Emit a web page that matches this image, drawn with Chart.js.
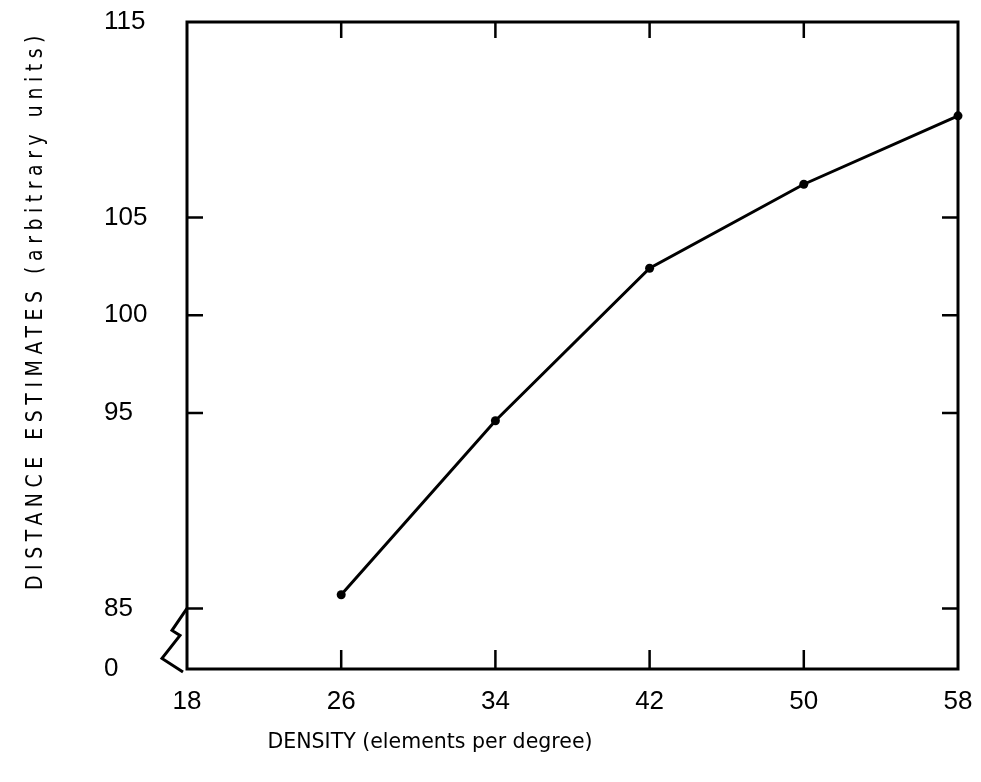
<!DOCTYPE html>
<html>
<head>
<meta charset="utf-8">
<style>
  html, body { margin: 0; padding: 0; background: #fff; }
  #wrap { width: 981px; height: 782px; }
</style>
</head>
<body>
<div id="wrap"><canvas id="chart" width="981" height="782"></canvas></div>
<script src="https://cdn.jsdelivr.net/npm/chart.js@4/dist/chart.umd.min.js"></script>
<script>
// density (elements per degree)
const densities = [26, 34, 42, 50, 58];
// distance estimates (arbitrary units)
const distances = [85.7, 94.6, 102.4, 106.7, 110.2];

const xTicks = [18, 26, 34, 42, 50, 58];
const yTicks = [85, 95, 100, 105, 115];
const yBreakValue = 81.9;   // bottom of the broken axis, labelled "0"
const yBreakLabel = '0';

const xTitle = 'DENSITY (elements per degree)';
const yTitle = 'DISTANCE ESTIMATES (arbitrary units)';

const tickFont = { family: '"Liberation Sans", Arial, sans-serif', size: 26 };
const titleFamily = '"DejaVu Sans", sans-serif';

// draws the box, the inward ticks, the axis break and the axis titles
const frame = {
    id: 'frame',
    afterDraw(chart) {
        const { ctx, chartArea: a, scales: { x, y } } = chart;
        ctx.save();
        ctx.strokeStyle = '#000';
        ctx.lineWidth = 3;
        ctx.strokeRect(a.left, a.top, a.right - a.left, a.bottom - a.top);

        const len = 16;
        ctx.lineWidth = 2.5;
        ctx.beginPath();
        xTicks.slice(1, -1).forEach(v => {
            const px = x.getPixelForValue(v);
            ctx.moveTo(px, a.bottom); ctx.lineTo(px, a.bottom - len - 3);
            ctx.moveTo(px, a.top); ctx.lineTo(px, a.top + len);
        });
        yTicks.slice(0, -1).forEach(v => {
            const py = y.getPixelForValue(v);
            ctx.moveTo(a.left, py); ctx.lineTo(a.left + len, py);
            ctx.moveTo(a.right, py); ctx.lineTo(a.right - len, py);
        });
        ctx.stroke();

        // zigzag for the broken axis
        const y85 = y.getPixelForValue(yTicks[0]);
        ctx.lineWidth = 3;
        ctx.beginPath();
        ctx.moveTo(a.left, y85);
        ctx.lineTo(a.left - 15, y85 + 22);
        ctx.lineTo(a.left - 7, y85 + 27);
        ctx.lineTo(a.left - 25, y85 + 50);
        ctx.lineTo(a.left - 4, a.bottom + 3);
        ctx.stroke();

        // axis titles, squeezed or spread to the lettering width of the original
        ctx.fillStyle = '#000';
        ctx.textAlign = 'center';
        ctx.textBaseline = 'middle';

        ctx.save();
        ctx.font = '22px ' + titleFamily;
        const wx = ctx.measureText(xTitle).width;
        ctx.translate(430, 742);
        ctx.scale(325 / wx, 1);
        ctx.fillText(xTitle, 0, 0);
        ctx.restore();

        ctx.save();
        ctx.font = '23px ' + titleFamily;
        const wy = ctx.measureText(yTitle).width;
        ctx.translate(36, 310);
        ctx.rotate(-Math.PI / 2);
        ctx.scale(0.82, 1);
        ctx.letterSpacing = ((560 / 0.82 - wy) / yTitle.length) + 'px';
        ctx.fillText(yTitle, 0, 0);
        ctx.restore();

        ctx.restore();
    }
};

const ctx = document.getElementById('chart').getContext('2d');

new Chart(ctx, {
    type: 'line',
    data: {
        datasets: [{
            data: densities.map((d, i) => ({ x: d, y: distances[i] })),
            borderColor: '#000',
            borderWidth: 3,
            backgroundColor: '#000',
            pointRadius: 4.5,
            pointBorderWidth: 0,
            pointBackgroundColor: '#000',
            tension: 0,
            clip: false
        }]
    },
    options: {
        responsive: false,
        animation: false,
        layout: { padding: { left: 104, top: 22, right: 23, bottom: 0 } },
        plugins: {
            legend: { display: false },
            tooltip: { enabled: false }
        },
        scales: {
            x: {
                type: 'linear',
                min: 18,
                max: 58,
                afterBuildTicks: s => { s.ticks = xTicks.map(v => ({ value: v })); },
                afterFit: s => { s.height = 113; s.paddingLeft = 0; s.paddingRight = 0; },
                grid: { display: false, drawTicks: false },
                border: { display: false },
                ticks: { padding: 17, color: '#000', font: tickFont, maxRotation: 0 }
            },
            y: {
                type: 'linear',
                min: yBreakValue,
                max: 115,
                afterBuildTicks: s => { s.ticks = [yBreakValue].concat(yTicks).map(v => ({ value: v })); },
                afterFit: s => { s.width = 83; s.paddingTop = 0; s.paddingBottom = 0; },
                grid: { display: false, drawTicks: false },
                border: { display: false },
                ticks: {
                    crossAlign: 'far',
                    color: '#000',
                    font: tickFont,
                    callback: v => v === yBreakValue ? yBreakLabel : String(v)
                }
            }
        }
    },
    plugins: [frame]
});
</script>
</body>
</html>
